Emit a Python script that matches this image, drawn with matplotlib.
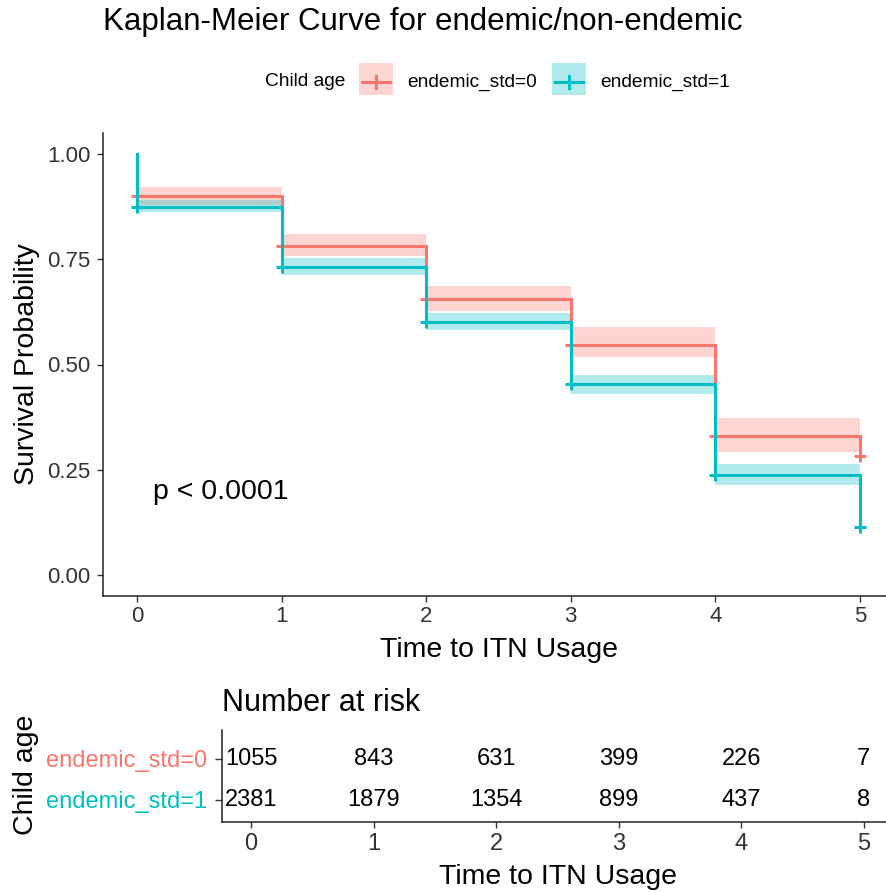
import matplotlib
matplotlib.use("Agg")
import matplotlib.pyplot as plt
import numpy as np
from matplotlib.patches import Rectangle
from matplotlib.lines import Line2D

plt.rcParams['font.family'] = ['Liberation Sans', 'DejaVu Sans']

# ---------------- data ----------------
times = [0, 1, 2, 3, 4, 5]
strata = ["endemic_std=0", "endemic_std=1"]
colors = ["#F8766D", "#00BFC4"]

surv0 = [0.900, 0.782, 0.656, 0.547, 0.330, 0.282]
lower0 = [0.880, 0.758, 0.626, 0.517, 0.292]
upper0 = [0.922, 0.810, 0.687, 0.588, 0.374]

surv1 = [0.874, 0.732, 0.601, 0.453, 0.237, 0.114]
lower1 = [0.862, 0.713, 0.581, 0.431, 0.213]
upper1 = [0.890, 0.754, 0.623, 0.476, 0.263]

risk0 = [1055, 843, 631, 399, 226, 7]
risk1 = [2381, 1879, 1354, 899, 437, 8]

x_ticks = [0, 1, 2, 3, 4, 5]
y_ticks = [0.00, 0.25, 0.50, 0.75, 1.00]
y_ticklabels = ["0.00", "0.25", "0.50", "0.75", "1.00"]

title = "Kaplan-Meier Curve for endemic/non-endemic"
legend_title = "Child age"
xlabel = "Time to ITN Usage"
ylabel = "Survival Probability"
pval_text = "p < 0.0001"
table_title = "Number at risk"

# ---------------- figure ----------------
W, H = 887, 892
fig = plt.figure(figsize=(W / 100, H / 100), dpi=100)

def fx(px):
    return px / W

def fy(py):
    return 1 - py / H

tick_col = '#333333'

# main axes
ax = fig.add_axes([fx(103), fy(596), fx(887 - 103), (596 - 133) / H])
ax.set_xlim(-0.235, 5.187)
ax.set_ylim(-0.05, 1.05)

survs = [surv0, surv1]
lowers = [lower0, lower1]
uppers = [upper0, upper1]

# bands
for k in range(2):
    lo = lowers[k] + [lowers[k][-1]]
    up = uppers[k] + [uppers[k][-1]]
    ax.fill_between(times, lo, up, step='post', color=colors[k], alpha=0.3,
                    linewidth=0, zorder=1)

# curves
for k in range(2):
    s = survs[k]
    xs = [0] + times
    ys = [1.0] + s
    ax.step(xs, ys, where='post', color=colors[k], lw=2.2, zorder=3 + k,
            solid_joinstyle='miter')
    ax.plot(times, s, linestyle='none', marker='+', ms=9, mew=2.2,
            color=colors[k], zorder=3 + k)

ax.text(0.11, 0.197, pval_text, fontsize=20.5, ha='left', va='center')

ax.set_xticks(x_ticks)
ax.set_yticks(y_ticks)
ax.set_yticklabels(y_ticklabels)
ax.tick_params(axis='both', labelsize=16, length=4, width=1, colors='#333333',
               labelcolor=tick_col)
ax.tick_params(axis='y', pad=5)
ax.tick_params(axis='x', pad=3)
for sp in ['top', 'right']:
    ax.spines[sp].set_visible(False)
for sp in ['left', 'bottom']:
    ax.spines[sp].set_linewidth(1.1)
    ax.spines[sp].set_color('#222222')

fig.text(fx(499), fy(650), xlabel, fontsize=20.5, ha='center', va='center')
fig.text(fx(27), fy(364), ylabel, fontsize=20.5, ha='center', va='center',
         rotation=90)

# title
fig.text(fx(103), fy(22), title, fontsize=22.5, ha='left', va='center')

# legend (manual)
fig.text(fx(265), fy(82), legend_title, fontsize=13.8, ha='left', va='center')
key_x = [359, 552]
key_w = 34
text_x = [407, 600]
for k in range(2):
    x0 = key_x[k]
    fig.add_artist(Rectangle((fx(x0), fy(95)), fx(key_w), 32 / H,
                             transform=fig.transFigure, facecolor=colors[k],
                             alpha=0.3, edgecolor='none'))
    fig.add_artist(Line2D([fx(x0 + 3), fx(x0 + key_w - 3)], [fy(82), fy(82)],
                          transform=fig.transFigure, color=colors[k], lw=2.2))
    fig.add_artist(Line2D([fx(x0 + key_w / 2), fx(x0 + key_w / 2)],
                          [fy(76), fy(88)],
                          transform=fig.transFigure, color=colors[k], lw=2.2))
    fig.text(fx(text_x[k]), fy(82), strata[k], fontsize=13.8, ha='left',
             va='center')

# ---------------- risk table ----------------
tax = fig.add_axes([fx(222), fy(822), fx(887 - 222), (822 - 730) / H])
tax.set_xlim(-0.237, 5.19)
tax.set_ylim(0.463, 2.707)
risks = [risk0, risk1]
rows = [2, 1]
for k in range(2):
    for t, n in zip(times, risks[k]):
        tax.text(t, rows[k], str(n), fontsize=17, ha='center', va='center')
tax.set_yticks(rows)
tax.set_yticklabels(strata)
for lab, c in zip(tax.get_yticklabels(), colors):
    lab.set_color(c)
tax.set_xticks(x_ticks)
tax.tick_params(axis='y', labelsize=17, length=5, width=1, pad=6,
                colors='#333333')
for lab, c in zip(tax.get_yticklabels(), colors):
    lab.set_color(c)
tax.tick_params(axis='x', labelsize=17, length=4, width=1, pad=4,
                colors='#333333', labelcolor=tick_col)
for sp in ['top', 'right']:
    tax.spines[sp].set_visible(False)
for sp in ['left', 'bottom']:
    tax.spines[sp].set_linewidth(1.1)
    tax.spines[sp].set_color('#222222')

fig.text(fx(222), fy(703), table_title, fontsize=22, ha='left', va='center')
fig.text(fx(558), fy(877), xlabel, fontsize=20.5, ha='center', va='center')
fig.text(fx(26), fy(775), legend_title, fontsize=20.5, ha='center',
         va='center', rotation=90)

fig.savefig("out.png", dpi=100)
